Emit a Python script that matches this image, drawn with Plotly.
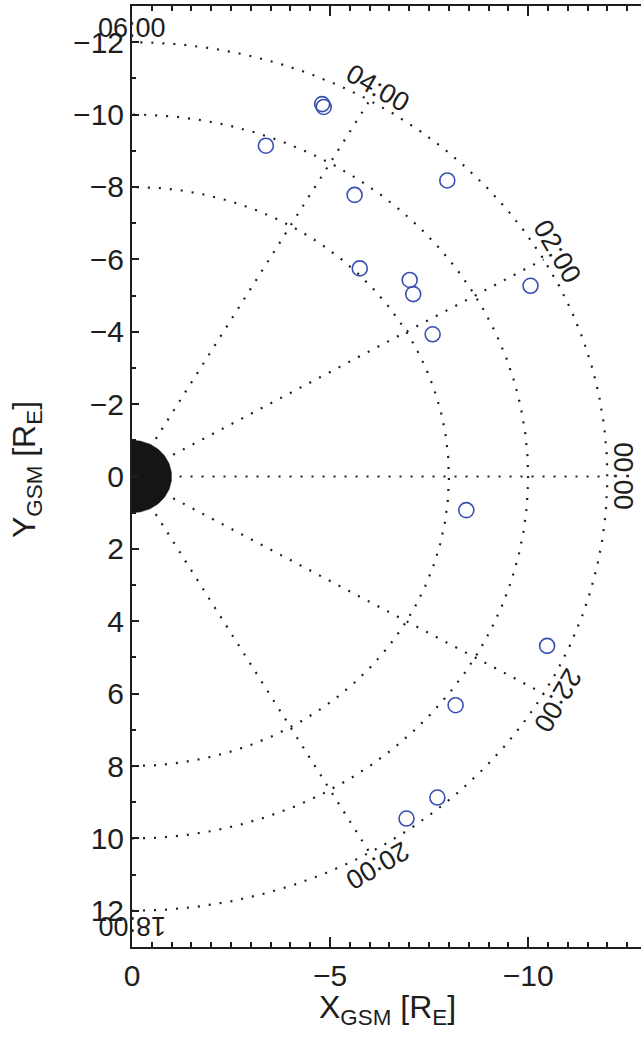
import numpy as np
import plotly.graph_objects as go

# ---------------- data ----------------
# event positions (GSM, Earth radii)
x_gsm = [-3.38, -4.80, -4.84, -5.62, -7.96, -5.75, -7.01, -7.10, -7.59,
         -10.06, -8.44, -10.48, -8.17, -7.71, -6.93]
y_gsm = [-9.14, -10.29, -10.21, -7.78, -8.18, -5.75, -5.43, -5.04, -3.93,
         -5.27, 0.93, 4.68, 6.32, 8.87, 9.45]

grid_radii = [8, 10, 12]                 # dotted circles
radial_hours = [20, 22, 0, 2, 4]         # dotted MLT spokes
spoke_r0, spoke_r1 = 1.2, 12.0
label_hours = [6, 4, 2, 0, 22, 20, 18]
label_text = ["06:00", "04:00", "02:00", "00:00", "22:00", "20:00", "18:00"]
label_r = 12.4
earth_r = 1.0

y_ticks = [-12, -10, -8, -6, -4, -2, 0, 2, 4, 6, 8, 10, 12]
x_ticks = [0, -5, -10]

DOT = dict(color="#1e1e1e", width=2.2, dash="2px,9px")
FONT = "Liberation Sans, Arial, sans-serif"
INK = "#1e1e1e"


def hour_angle(h):
    hh = h if h <= 12 else h - 24
    return np.deg2rad(hh * 15.0)


fig = go.Figure()

# dotted circles
phi = np.deg2rad(np.linspace(-90, 90, 361))
for r in grid_radii:
    fig.add_trace(go.Scatter(x=-r * np.cos(phi), y=-r * np.sin(phi), mode="lines",
                             line=DOT, hoverinfo="skip", showlegend=False))

# dotted spokes
for h in radial_hours:
    a = hour_angle(h)
    rr = np.array([spoke_r0, spoke_r1])
    fig.add_trace(go.Scatter(x=-rr * np.cos(a), y=-rr * np.sin(a), mode="lines",
                             line=DOT, hoverinfo="skip", showlegend=False))

# Earth (night half)
th = np.deg2rad(np.linspace(-90, 90, 91))
ex = np.concatenate([-earth_r * np.cos(th), [0]])
ey = np.concatenate([earth_r * np.sin(th), [-earth_r]])
fig.add_trace(go.Scatter(x=ex, y=ey, mode="lines", fill="toself",
                         fillcolor="#151515", line=dict(color="#151515", width=0.5),
                         hoverinfo="skip", showlegend=False))

# events
fig.add_trace(go.Scatter(x=x_gsm, y=y_gsm, mode="markers",
                         marker=dict(symbol="circle-open", size=15,
                                     color="#3a4fb2", line=dict(width=1.6, color="#3a4fb2")),
                         showlegend=False))

# MLT labels
for h, t in zip(label_hours, label_text):
    a = hour_angle(h)
    hh = h if h <= 12 else h - 24
    fig.add_annotation(x=-label_r * np.cos(a), y=-label_r * np.sin(a), text=t,
                       showarrow=False, textangle=(6 - hh) * 15,
                       xanchor="center", yanchor="middle",
                       font=dict(family=FONT, size=27, color=INK))

# axis titles
TF = dict(family=FONT, size=32, color=INK)
fig.add_annotation(xref="paper", yref="paper", x=-0.206, y=0.507,
                   text="Y<sub>GSM</sub> [R<sub>E</sub>]", textangle=-90,
                   showarrow=False, xanchor="center", yanchor="middle", font=TF)
fig.add_annotation(xref="paper", yref="paper", x=0.502, y=-0.066,
                   text="X<sub>GSM</sub> [R<sub>E</sub>]",
                   showarrow=False, xanchor="center", yanchor="middle", font=TF)

tickfont = dict(family=FONT, size=30, color=INK)

fig.update_layout(
    width=641, height=1042, margin=dict(l=132, r=0, t=6, b=95),
    plot_bgcolor="white", paper_bgcolor="white",
    xaxis=dict(range=[0, -12.85], tickvals=x_ticks, ticktext=["0", "−5", "−10"],
               showgrid=False, zeroline=False, showline=True, linecolor=INK, linewidth=2,
               mirror="ticks", ticks="inside", tickcolor=INK, tickwidth=1.5, ticklen=10,
               ticklabelstandoff=1, tickfont=tickfont,
               minor=dict(dtick=0.5, tick0=0, ticklen=5, ticks="inside",
                          tickcolor=INK, tickwidth=1.5)),
    yaxis=dict(range=[13, -13], tickvals=y_ticks,
               ticktext=[("−" + str(-v)) if v < 0 else str(v) for v in y_ticks],
               showgrid=False, zeroline=False, showline=True, linecolor=INK, linewidth=2,
               mirror=False, ticks="inside", tickcolor=INK, tickwidth=1.5, ticklen=7,
               ticklabelstandoff=0, tickfont=tickfont,
               minor=dict(dtick=1, tick0=0, ticklen=4, ticks="inside",
                          tickcolor=INK, tickwidth=1.5)),
    yaxis2=dict(range=[13, -13], overlaying="y", side="right", tickvals=y_ticks,
                showticklabels=False, showgrid=False, zeroline=False, showline=False,
                ticks="inside", tickcolor=INK, tickwidth=1.5, ticklen=7,
                minor=dict(dtick=1, tick0=0, ticklen=4, ticks="inside",
                           tickcolor=INK, tickwidth=1.5)),
)

fig.write_html("out.html")
